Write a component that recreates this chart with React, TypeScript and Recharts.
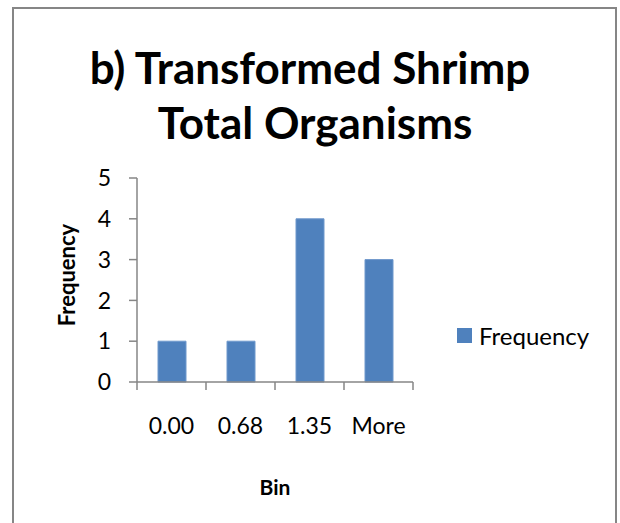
import React from 'react';
import { BarChart, Bar, XAxis, YAxis, Legend } from 'recharts';

const bins = ['0.00', '0.68', '1.35', 'More'];
const frequency = [1, 1, 4, 3];
const yTicks = [0, 1, 2, 3, 4, 5];

const data = bins.map((bin, i) => ({ bin, Frequency: frequency[i] }));

const W = 620;
const H = 523;
const margin = { top: 178, right: 207, bottom: 111, left: 77 };
const Y_AXIS_W = 60;
const plotWidth = W - margin.left - Y_AXIS_W - margin.right;
const halfBand = plotWidth / bins.length / 2;

const FONT = 'Lato, "Open Sans", sans-serif';
const AXIS = '#868686';
const BAR = '#4F81BD';

const XTick = (props: any) => {
  const { x, y, payload, index } = props;
  return (
    <g>
      <line x1={x - halfBand} x2={x - halfBand} y1={y - 8} y2={y} stroke={AXIS} strokeWidth={1.5} />
      {index === bins.length - 1 && (
        <line x1={x + halfBand} x2={x + halfBand} y1={y - 8} y2={y} stroke={AXIS} strokeWidth={1.5} />
      )}
      <text x={x} y={y + 44} textAnchor="middle" fontSize={23} fontFamily={FONT} fill="#000">
        {payload.value}
      </text>
    </g>
  );
};

const LegendContent = () => (
  <div style={{ display: 'flex', alignItems: 'center', fontFamily: FONT, fontSize: 24, color: '#000', whiteSpace: 'nowrap' }}>
    <span style={{ width: 15, height: 15, background: BAR, display: 'inline-block', marginRight: 7 }} />
    <span>Frequency</span>
  </div>
);

export default function App() {
  return (
    <div style={{ position: 'absolute', left: 0, top: 0, width: W, height: H, background: '#fff', overflow: 'hidden' }}>
      <div
        style={{
          position: 'absolute',
          left: 12,
          top: 7,
          width: 601,
          height: H,
          borderLeft: `2px solid ${AXIS}`,
          borderTop: `2px solid ${AXIS}`,
          borderRight: `2px solid ${AXIS}`,
        }}
      />
      <svg width={W} height={170} style={{ position: 'absolute', left: 0, top: 0 }}>
        <text x={310} y={84} textAnchor="middle" fontSize={44} fontWeight="bold" fontFamily={FONT} fill="#000">
          b) Transformed Shrimp
        </text>
        <text x={315} y={139} textAnchor="middle" fontSize={44} fontWeight="bold" fontFamily={FONT} fill="#000">
          Total Organisms
        </text>
      </svg>
      <div style={{ position: 'absolute', left: 0, top: 0 }}>
        <BarChart width={W} height={H} data={data} margin={margin} barSize={28}>
          <XAxis
            dataKey="bin"
            axisLine={{ stroke: AXIS, strokeWidth: 1.5 }}
            tickLine={false}
            tickSize={8}
            tickMargin={0}
            height={30}
            interval={0}
            tick={<XTick />}
            label={{
              content: (p: any) => (
                <text
                  x={p.viewBox.x + p.viewBox.width / 2}
                  y={p.viewBox.y + 113}
                  textAnchor="middle"
                  fontSize={21}
                  fontWeight="bold"
                  fontFamily={FONT}
                  fill="#000"
                >
                  Bin
                </text>
              ),
            }}
          />
          <YAxis
            domain={[0, 5]}
            ticks={yTicks}
            interval={0}
            width={Y_AXIS_W}
            axisLine={{ stroke: AXIS, strokeWidth: 1.5 }}
            tickLine={{ stroke: AXIS, strokeWidth: 1.5 }}
            tickSize={8}
            tickMargin={18}
            tick={{ fill: '#000', fontSize: 23, fontFamily: FONT }}
            label={{
              content: (p: any) => {
                const cx = 66;
                const cy = p.viewBox.y + p.viewBox.height / 2 - 5;
                return (
                  <text
                    x={cx}
                    y={cy}
                    transform={`rotate(-90 ${cx} ${cy})`}
                    textAnchor="middle"
                    dominantBaseline="central"
                    fontSize={22}
                    fontWeight="bold"
                    fontFamily={FONT}
                    fill="#000"
                  >
                    Frequency
                  </text>
                );
              },
            }}
          />
          <Legend
            align="center"
            verticalAlign="middle"
            content={<LegendContent />}
            wrapperStyle={{ position: 'absolute', left: 457, top: 321, width: 'auto' }}
          />
          <Bar dataKey="Frequency" fill={BAR} stroke="#6f98cc" strokeWidth={1} isAnimationActive={false} />
        </BarChart>
      </div>
    </div>
  );
}
